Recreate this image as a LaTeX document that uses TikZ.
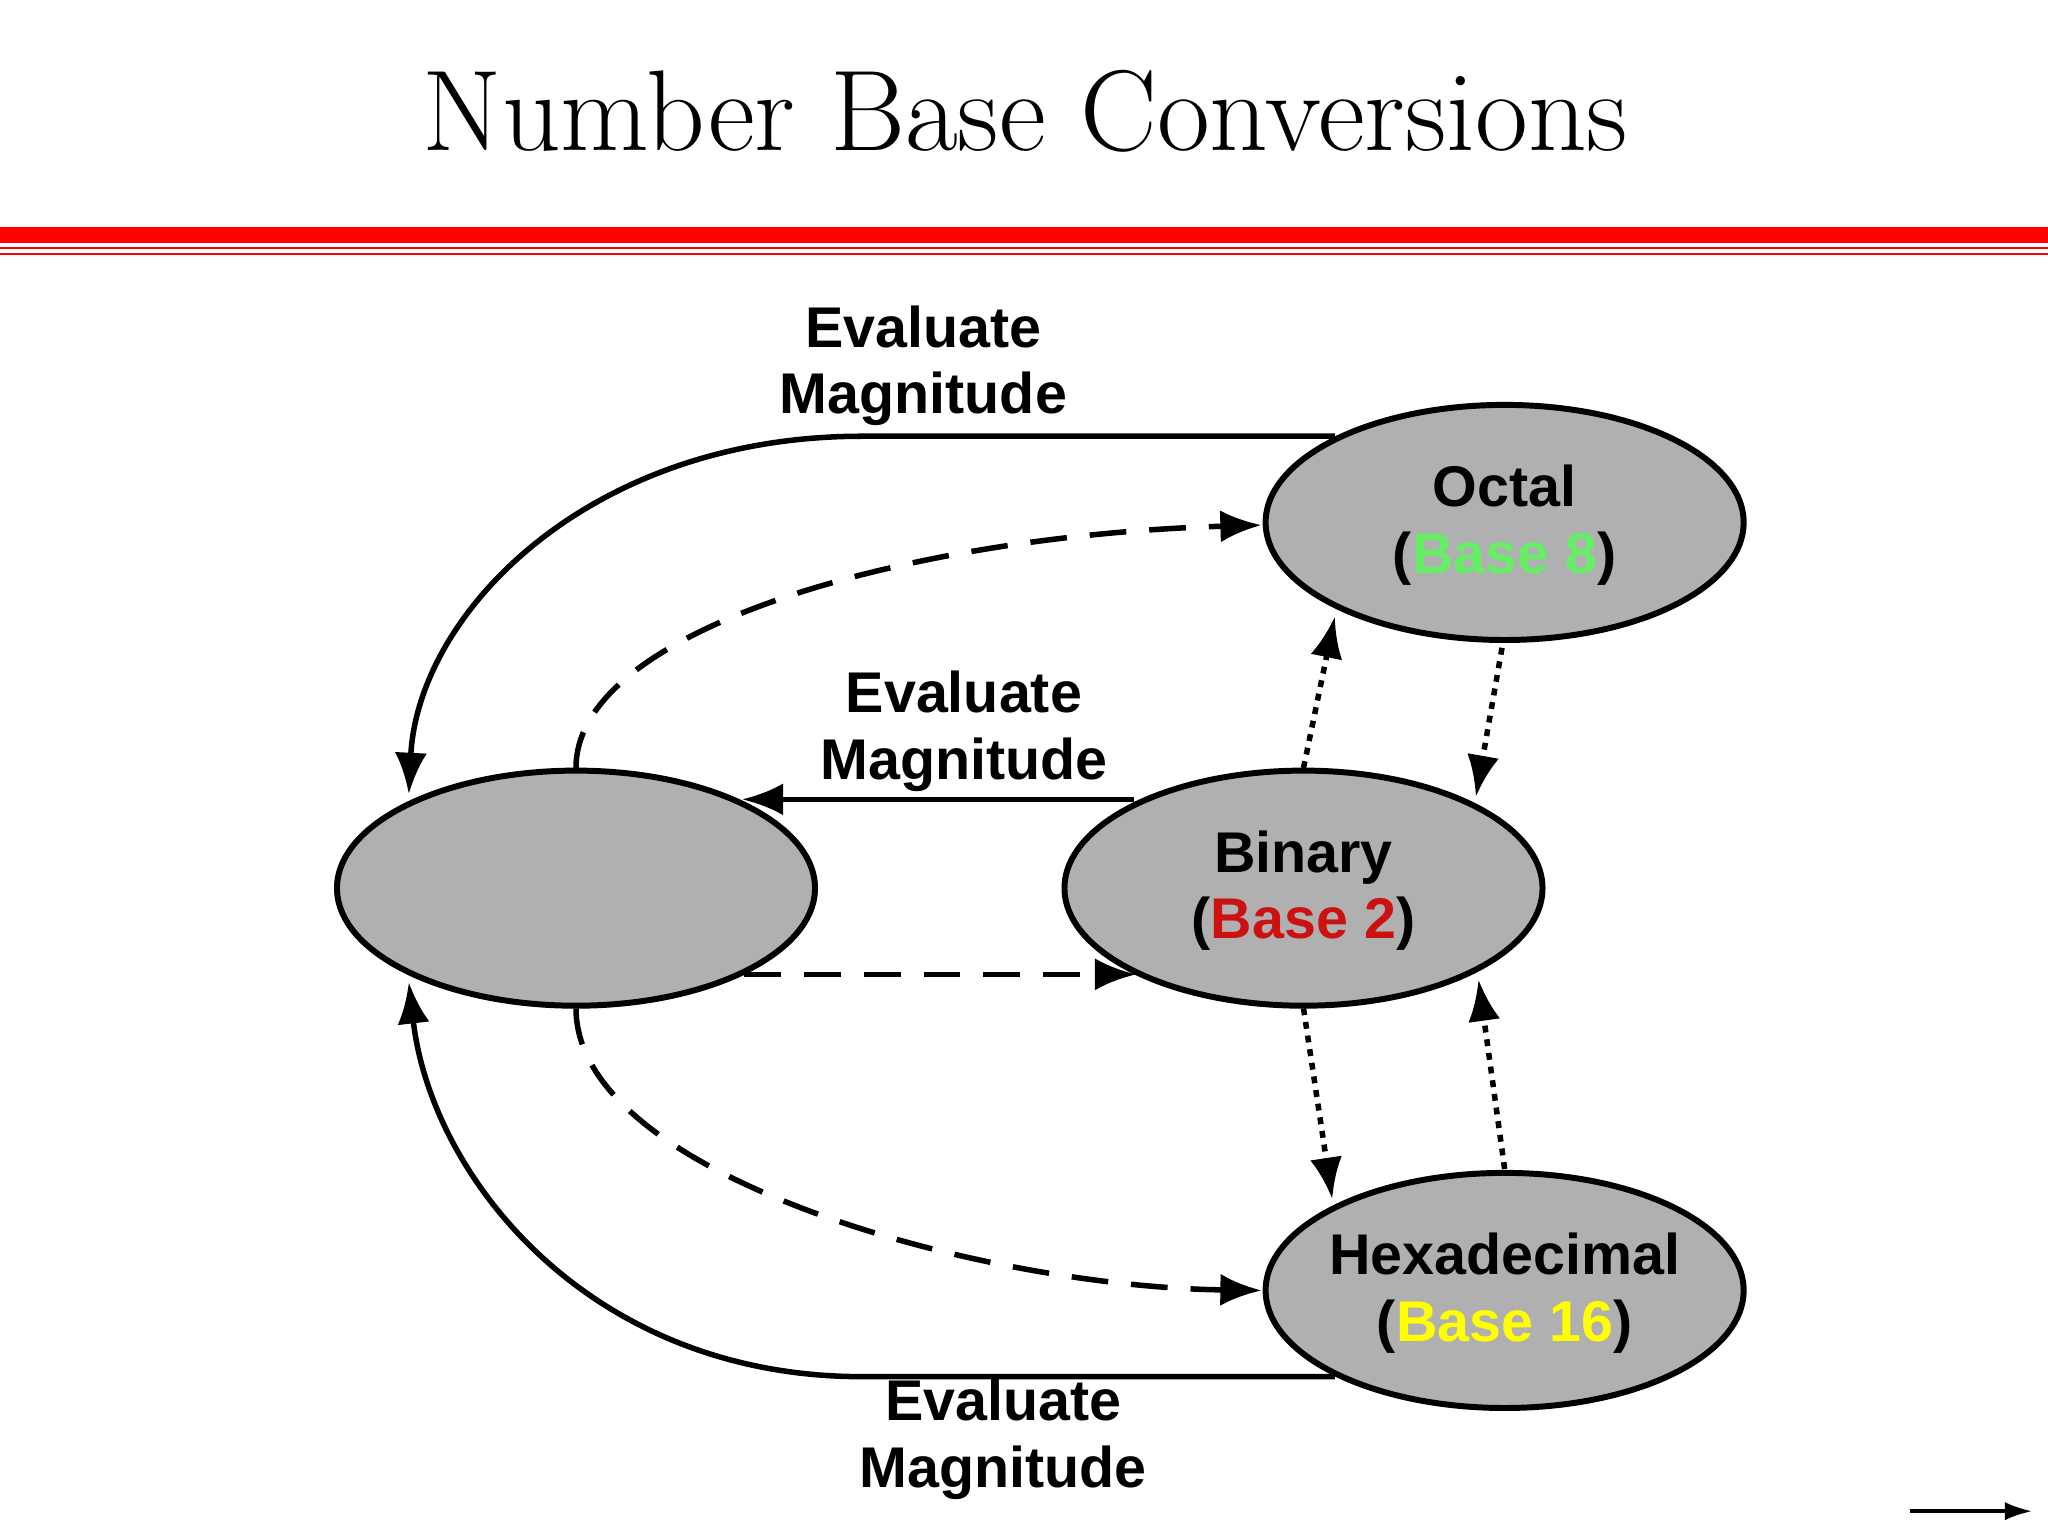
\documentclass[tikz,border=0pt]{standalone}
\usepackage{fontspec}
\setsansfont{Liberation Sans}
\usetikzlibrary{arrows.meta}
\definecolor{ellgray}{HTML}{B1B0B1}
\begin{document}
\begin{tikzpicture}[x=0.01cm,y=-0.01cm,
  ell/.style={draw=black,line width=1.3pt,fill=ellgray,ellipse,minimum width=366\pgfmathresult,inner sep=0pt},
  lbl/.style={font=\sffamily\bfseries\fontsize{12.5}{14.5}\selectfont,align=center},
  conn/.style={line width=1.2pt,-{Latex[length=9pt,width=7pt]}},
  dsh/.style={conn,dash pattern=on 8pt off 5pt},
  dot/.style={conn,dash pattern=on 1.5pt off 1.5pt}]
\useasboundingbox[fill=white] (0,0) rectangle (1568,1176);
\node[font=\fontsize{25}{30}\selectfont] (title) at (785,85) {Number Base Conversions};
\fill[red] (0,174) rectangle (1568,186);
\fill[red] (0,189) rectangle (1568,191);
\fill[red] (0,193.5) rectangle (1568,195);
\foreach \n/\x/\y in {L/441/680,B/998/680,O/1152/400,H/1152/988}
  \draw[line width=1.3pt,fill=ellgray] (\x,\y) ellipse [x radius=183,y radius=90];
\node[lbl] (O) at (1152,402) {Octal\\(\textcolor[HTML]{66EE66}{Base 8})};
\node[lbl] (B) at (998,682) {Binary\\(\textcolor[HTML]{CC1111}{Base 2})};
\node[lbl] (H) at (1152,990) {Hexadecimal\\(\textcolor[HTML]{FFFF00}{Base 16})};
\coordinate (L) at (441,680);
\node[lbl] (t1) at (707,280) {Evaluate\\Magnitude};
\node[lbl] (t2) at (738,560) {Evaluate\\Magnitude};
\node[lbl] (t3) at (768,1102) {Evaluate\\Magnitude};
\coordinate (o1) at (1022,334);
\coordinate (l1) at (313,608);
\draw[conn] (o1) -- (660,334) .. controls (450,334) and (320,470) .. (l1);
\coordinate (b1) at (868,612);
\coordinate (l2) at (568,612);
\draw[conn] (b1) -- (l2);
\coordinate (h1) at (1022,1054);
\coordinate (l3) at (313,752);
\draw[conn] (h1) -- (660,1054) .. controls (450,1054) and (330,900) .. (l3);
\coordinate (l4) at (441,588);
\coordinate (o2) at (966,402);
\draw[dsh] (l4) .. controls (441,480) and (700,410) .. (o2);
\coordinate (l5) at (570,746);
\coordinate (b2) at (870,746);
\draw[dsh] (l5) -- (b2);
\coordinate (l6) at (441,772);
\coordinate (h2) at (966,988);
\draw[dsh] (l6) .. controls (441,900) and (750,985) .. (h2);
\draw[dot] (998,588) -- (1022,472);
\draw[dot] (1150,496) -- (1130,610);
\draw[dot] (998,772) -- (1020,918);
\draw[dot] (1152,895) -- (1132,750);
\coordinate (s1) at (1462,1157);
\coordinate (s2) at (1556,1157);
\draw[-{Latex[length=6pt,width=4pt]},line width=0.8pt] (s1) -- (s2);
\end{tikzpicture}
\end{document}
